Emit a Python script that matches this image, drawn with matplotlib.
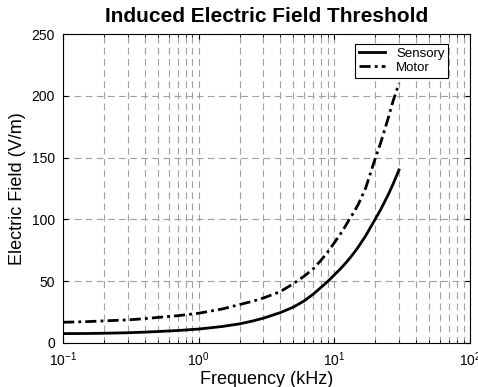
import matplotlib
matplotlib.use("Agg")
import matplotlib.pyplot as plt

plt.rcParams['font.family'] = ['Liberation Sans', 'DejaVu Sans']
plt.rcParams['mathtext.fontset'] = 'custom'
plt.rcParams['mathtext.rm'] = 'Liberation Sans'

# frequency in kHz, field in V/m
freq = [0.1, 0.15, 0.2, 0.3, 0.4, 0.5, 0.7, 1, 1.5, 2, 2.5, 3, 4, 5, 6, 7, 8, 9,
        10, 11, 12, 13, 14, 15, 17, 20, 22, 25, 27, 30]
sensory = [7.5, 7.6, 7.8, 8.2, 8.7, 9.2, 10, 11.2, 13.3, 15.4, 17.7, 20, 24.5, 29,
           34, 39.5, 45, 50, 55, 59.5, 64, 68.5, 73, 77.5, 86.5, 100, 108, 120, 128, 140]
motor = [16.7, 17.2, 17.8, 18.6, 19.6, 20.6, 22, 24, 27.5, 31, 33.7, 36.3, 41.5, 48,
         54, 60, 67, 74, 81, 87.5, 94, 100.5, 106, 112, 125, 149, 162, 182, 195, 210]

fig = plt.figure(figsize=(4.78, 3.87), dpi=100)
ax = fig.add_axes([0.132, 0.114, 0.851, 0.798])

ax.plot(freq, sensory, 'k-', lw=2, label='Sensory')
ax.plot(freq, motor, color='k', ls=(0, (4, 1.5, 1, 1.5)), lw=2, label='Motor')

ax.set_xscale('log')
ax.set_xlim(0.1, 100)
ax.set_ylim(0, 250)
ax.set_yticks([0, 50, 100, 150, 200, 250])

ax.grid(True, which='major', ls=(0, (6, 4)), color='#a0a0a0', lw=0.8)
ax.grid(True, which='minor', axis='x', ls=(0, (6, 4)), color='#a0a0a0', lw=0.8)
ax.tick_params(which='both', direction='in', labelsize=10, top=True, right=True)
ax.tick_params(axis='x', pad=5.5)
ax.tick_params(axis='y', pad=6)

ax.set_title('Induced Electric Field Threshold', fontweight='bold', fontsize=15, pad=9)
ax.set_xlabel('Frequency (kHz)', fontsize=13, labelpad=1)
ax.set_ylabel('Electric Field (V/m)', fontsize=13, labelpad=4)

leg = ax.legend(loc='upper right', bbox_to_anchor=(0.957, 0.982), fontsize=9.5,
                fancybox=False, edgecolor='black', handlelength=2.0,
                borderpad=0.3, labelspacing=0.15, handletextpad=0.8,
                borderaxespad=0.3, framealpha=1)
leg.get_frame().set_linewidth(0.8)

fig.savefig('out.png', dpi=100)
